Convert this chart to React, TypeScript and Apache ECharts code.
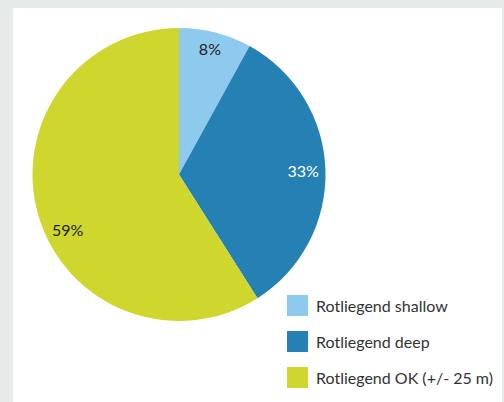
import React, { useEffect, useRef } from "react";
import * as echarts from "echarts";

const categories = ["Rotliegend shallow", "Rotliegend deep", "Rotliegend OK (+/- 25 m)"];
const values = [8, 33, 59];
const colors = ["#8ecaee", "#2580b3", "#cfd62e"];
const labelColors = ["#222222", "#ffffff", "#222222"];
const labelOffsets = [[0, -6], [0, 0], [8, 20]];

export default function App() {
  const ref = useRef<HTMLDivElement>(null);
  useEffect(() => {
    const chart = echarts.init(ref.current!, null, { renderer: "svg" });
    const data = categories.map((name, i) => ({
      name,
      value: values[i],
      itemStyle: { color: colors[i] },
    }));
    const labelData = categories.map((name, i) => ({
      name,
      value: values[i],
      label: { color: labelColors[i], offset: labelOffsets[i] },
    }));
    chart.setOption({
      animation: false,
      backgroundColor: "#e6eae9",
      graphic: [
        {
          type: "rect",
          shape: { x: 13, y: 8, width: 489, height: 400 },
          style: { fill: "#ffffff" },
          z: -10,
          silent: true,
        },
      ],
      legend: {
        orient: "vertical",
        left: 282,
        top: 290,
        itemWidth: 21,
        itemHeight: 21,
        itemGap: 15,
        icon: "rect",
        data: categories,
        selectedMode: false,
        textStyle: {
          fontFamily: "Lato",
          fontSize: 16,
          color: "#333333",
          padding: [0, 0, 0, 3],
        },
      },
      series: [
        {
          type: "pie",
          center: [179, 174.5],
          radius: [0, 146.5],
          startAngle: 90,
          clockwise: true,
          label: { show: false },
          labelLine: { show: false },
          silent: true,
          data,
        },
        {
          type: "pie",
          center: [179, 174.5],
          radius: [96, 146.5],
          startAngle: 90,
          clockwise: true,
          itemStyle: { color: "rgba(0,0,0,0)" },
          label: {
            show: true,
            position: "inside",
            formatter: "{c}%",
            fontFamily: "Lato",
            fontSize: 16,
          },
          labelLine: { show: false },
          silent: true,
          data: labelData,
        },
      ],
    });
    return () => chart.dispose();
  }, []);
  return (
    <div
      ref={ref}
      style={{ position: "fixed", left: 0, top: 0, width: 504, height: 402 }}
    />
  );
}
